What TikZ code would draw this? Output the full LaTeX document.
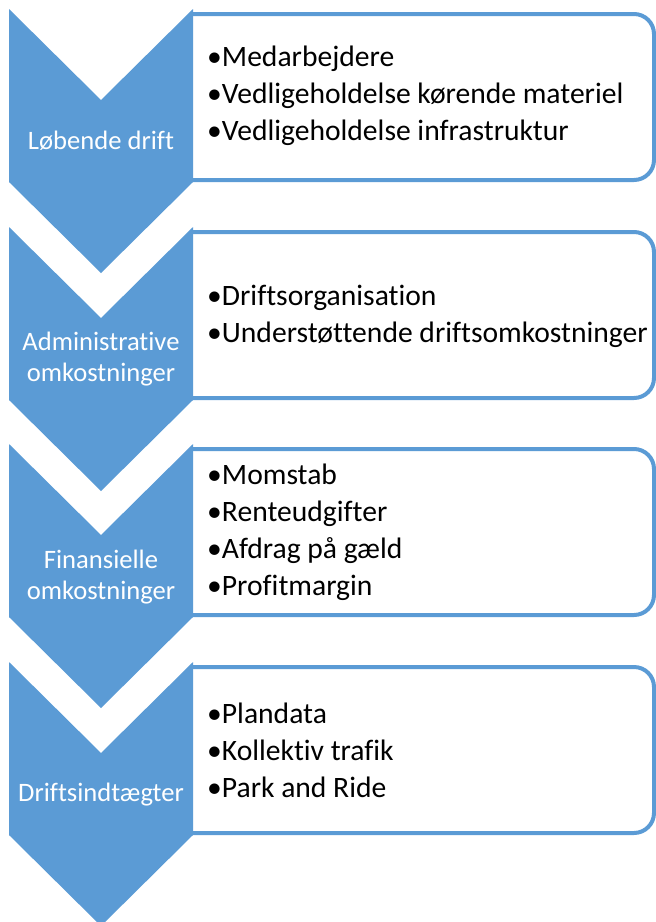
\documentclass[tikz,border=0pt]{standalone}
\usepackage{fontspec}
\setmainfont{Carlito}[Ligatures={NoCommon,NoRare,NoDiscretionary}]
\definecolor{smblue}{HTML}{5B9BD5}
\tikzset{
  chev/.style={fill=smblue, draw=none},
  listbox/.style={draw=smblue, line width=4pt, fill=white, rounded corners=20pt},
  chevlabel/.style={text=white, font=\fontsize{26.6}{31}\selectfont, align=center, inner sep=0pt},
  itemlist/.style={text=black, font=\fontsize{29.6}{37}\selectfont, align=left, anchor=west, inner sep=0pt}
}
\begin{document}
\begin{tikzpicture}[x=1pt,y=-1pt]
\useasboundingbox (0,0) rectangle (656,922);
\clip (0,0) rectangle (656,922);
\foreach \t/\i in {9/1,227/2,444/3,662/4}{
  % box (left corners square, hidden by chevron)
  \draw[listbox] (185,\t+5) -- (654,\t+5) -- (654,\t+171) -- (185,\t+171);
  \fill[white] (170,\t+3) rectangle (190,\t+173);
  \fill[chev] (9,\t) -- (101,\t+91) -- (193,\t) -- (193,\t+173) -- (101,\t+264) -- (9,\t+173) -- cycle;
}
\node[chevlabel] (c1) at (101,141) {Løbende drift};
\node[chevlabel] (c2) at (101,359) {Administrative\\omkostninger};
\node[chevlabel] (c3) at (101,577) {Finansielle\\omkostninger};
\node[chevlabel] (c4) at (101,795) {Driftsindtægter};
\node[itemlist] (l1) at (207,96) {•Medarbejdere\\•Vedligeholdelse kørende materiel\\•Vedligeholdelse infrastruktur};
\node[itemlist] (l2) at (207,316) {•Driftsorganisation\\•Understøttende driftsomkostninger};
\node[itemlist] (l3) at (207,532) {•Momstab\\•Renteudgifter\\•Afdrag på gæld\\•Profitmargin};
\node[itemlist] (l4) at (207,750) {•Plandata\\•Kollektiv trafik\\•Park and Ride};
\end{tikzpicture}
\end{document}
